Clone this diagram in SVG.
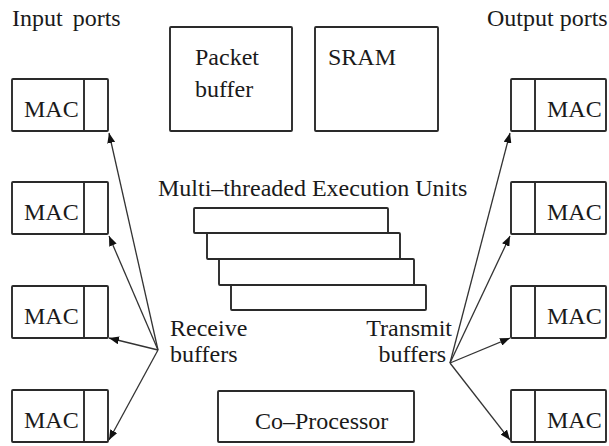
<svg xmlns="http://www.w3.org/2000/svg" width="609" height="446" viewBox="0 0 609 446">
<style>
.box{fill:#fff;stroke:#2a2a2a;stroke-width:1.9}
.ln{stroke:#2a2a2a;stroke-width:1.9;fill:none}
.t{font-family:'Liberation Serif','DejaVu Serif',serif;font-size:24px;fill:#1a1a1a}
.c{stroke:#333;stroke-width:1.3;fill:none;marker-end:url(#ah)}
</style>
<defs>
<marker id="ah" viewBox="0 0 10 8" refX="10" refY="4" markerWidth="10" markerHeight="8" markerUnits="userSpaceOnUse" orient="auto">
<path d="M0,0 L10,4 L0,8 Z" fill="#111"/>
</marker>
</defs>
<text class="t" font-family="Liberation Serif" x="12" y="26" word-spacing="4">Input ports</text>
<text class="t" font-family="Liberation Serif" x="487" y="26">Output ports</text>
<g id="packet-buffer"><rect class="box" x="170" y="27" width="122" height="104" rx="1"/><text class="t" font-family="Liberation Serif" x="195" y="65">Packet</text><text class="t" font-family="Liberation Serif" x="195" y="97">buffer</text></g>
<g id="sram"><rect class="box" x="315" y="27" width="123" height="104" rx="1"/><text class="t" font-family="Liberation Serif" x="328" y="65">SRAM</text></g>
<g id="in-mac-1"><rect class="box" x="12" y="79" width="96" height="52" rx="1"/><line class="ln" x1="84" y1="79" x2="84" y2="131"/><text class="t" font-family="Liberation Serif" x="24" y="117">MAC</text></g>
<g id="in-mac-2"><rect class="box" x="12" y="182" width="96" height="52" rx="1"/><line class="ln" x1="84" y1="182" x2="84" y2="234"/><text class="t" font-family="Liberation Serif" x="24" y="220">MAC</text></g>
<g id="in-mac-3"><rect class="box" x="12" y="286" width="96" height="52" rx="1"/><line class="ln" x1="84" y1="286" x2="84" y2="338"/><text class="t" font-family="Liberation Serif" x="24" y="324">MAC</text></g>
<g id="in-mac-4"><rect class="box" x="12" y="390" width="96" height="52" rx="1"/><line class="ln" x1="84" y1="390" x2="84" y2="442"/><text class="t" font-family="Liberation Serif" x="24" y="428">MAC</text></g>
<g id="out-mac-1"><rect class="box" x="511" y="79" width="95" height="52" rx="1"/><line class="ln" x1="535" y1="79" x2="535" y2="131"/><text class="t" font-family="Liberation Serif" x="547" y="117">MAC</text></g>
<g id="out-mac-2"><rect class="box" x="511" y="182" width="95" height="52" rx="1"/><line class="ln" x1="535" y1="182" x2="535" y2="234"/><text class="t" font-family="Liberation Serif" x="547" y="220">MAC</text></g>
<g id="out-mac-3"><rect class="box" x="511" y="286" width="95" height="52" rx="1"/><line class="ln" x1="535" y1="286" x2="535" y2="338"/><text class="t" font-family="Liberation Serif" x="547" y="324">MAC</text></g>
<g id="out-mac-4"><rect class="box" x="511" y="390" width="95" height="52" rx="1"/><line class="ln" x1="535" y1="390" x2="535" y2="442"/><text class="t" font-family="Liberation Serif" x="547" y="428">MAC</text></g>
<g id="execution-units">
<text class="t" font-family="Liberation Serif" x="158" y="196">Multi–threaded Execution Units</text>
<rect class="box" x="194" y="208" width="194" height="25" rx="1"/>
<rect class="box" x="207" y="233" width="193" height="26" rx="1"/>
<rect class="box" x="219" y="259" width="195" height="26" rx="1"/>
<rect class="box" x="231" y="285" width="195" height="25" rx="1"/>
</g>
<g id="co-processor"><rect class="box" x="218" y="391" width="196" height="51" rx="1"/><text class="t" font-family="Liberation Serif" x="255" y="429">Co–Processor</text></g>
<g id="receive-buffers"><text class="t" font-family="Liberation Serif" x="170" y="336">Receive</text><text class="t" font-family="Liberation Serif" x="170" y="362">buffers</text></g>
<g id="transmit-buffers"><text class="t" font-family="Liberation Serif" x="452" y="336" text-anchor="end">Transmit</text><text class="t" font-family="Liberation Serif" x="446" y="362" text-anchor="end">buffers</text></g>
<g id="connectors">
<line class="c" x1="158" y1="350" x2="109" y2="133"/>
<line class="c" x1="158" y1="350" x2="109" y2="236"/>
<line class="c" x1="158" y1="350" x2="109" y2="338"/>
<line class="c" x1="158" y1="350" x2="109" y2="440"/>
<line class="c" x1="450" y1="363" x2="510" y2="133"/>
<line class="c" x1="450" y1="363" x2="510" y2="236"/>
<line class="c" x1="450" y1="363" x2="510" y2="338"/>
<line class="c" x1="450" y1="363" x2="510" y2="440"/>
</g>
</svg>
